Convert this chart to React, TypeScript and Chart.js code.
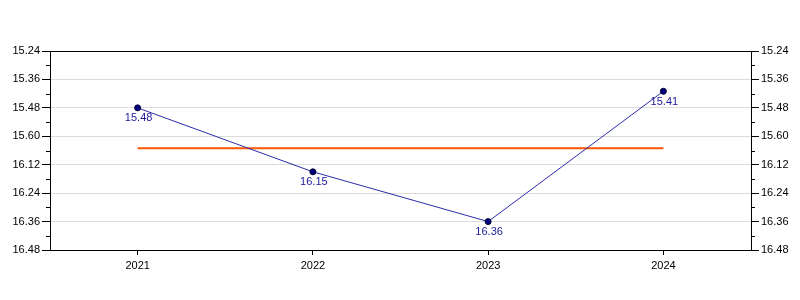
import React, { useEffect, useRef } from "react";
import { Chart, registerables } from "chart.js";

Chart.register(...registerables);

// Data (times expressed in seconds; labels as shown on the chart)
const categories = ["2021", "2022", "2023", "2024"];
const timeSeconds = [948, 975, 996, 941];
const pointLabels = ["15.48", "16.15", "16.36", "15.41"];
const averageSeconds = [965, 965, 965, 965];
const yTickLabels = ["15.24", "15.36", "15.48", "15.60", "16.12", "16.24", "16.36", "16.48"];
const yMin = 924;
const yMax = 1008;
const yStep = 12;

const FONT = "'Liberation Sans', Arial, sans-serif";

const minorTicksPlugin = {
  id: "minorTicks",
  afterDraw(chart: any) {
    const ctx = chart.ctx;
    ctx.save();
    ctx.strokeStyle = "#000";
    ctx.lineWidth = 1;
    ["y", "y2"].forEach((id) => {
      const scale = chart.scales[id];
      if (!scale) return;
      const ticks = scale.ticks;
      for (let i = 0; i < ticks.length - 1; i++) {
        const mid = (ticks[i].value + ticks[i + 1].value) / 2;
        const py = Math.round(scale.getPixelForValue(mid)) + 0.5;
        ctx.beginPath();
        if (id === "y") {
          const x = chart.chartArea.left;
          ctx.moveTo(x - 4, py);
          ctx.lineTo(x, py);
        } else {
          const x = chart.chartArea.right;
          ctx.moveTo(x, py);
          ctx.lineTo(x + 4, py);
        }
        ctx.stroke();
      }
    });
    ctx.restore();
  },
};

const pointLabelPlugin = {
  id: "pointLabels",
  afterDatasetsDraw(chart: any) {
    const ctx = chart.ctx;
    const meta = chart.getDatasetMeta(0);
    ctx.save();
    ctx.font = `11px ${FONT}`;
    ctx.fillStyle = "#1a1a9a";
    ctx.textAlign = "center";
    ctx.textBaseline = "top";
    meta.data.forEach((el: any, i: number) => {
      ctx.fillText(pointLabels[i], el.x + 1, el.y + 5);
    });
    ctx.restore();
  },
};

export default function App() {
  const canvasRef = useRef<HTMLCanvasElement | null>(null);

  useEffect(() => {
    if (!canvasRef.current) return;
    const yTicks = {
      stepSize: yStep,
      color: "#000",
      padding: 2,
      font: { family: FONT, size: 11 },
      callback: (v: any) => yTickLabels[Math.round((Number(v) - yMin) / yStep)] ?? "",
    };
    const chart = new Chart(canvasRef.current, {
      type: "line",
      data: {
        labels: categories,
        datasets: [
          {
            data: timeSeconds,
            borderColor: "#2b2ba8",
            borderWidth: 1,
            backgroundColor: "#000080",
            pointBackgroundColor: "#000080",
            pointBorderColor: "#000030",
            pointBorderWidth: 1,
            pointRadius: 3,
            tension: 0,
            yAxisID: "y",
          },
          {
            data: averageSeconds,
            borderColor: "#ff5500",
            borderWidth: 2,
            pointRadius: 0,
            tension: 0,
            yAxisID: "y",
          },
        ],
      },
      options: {
        animation: false,
        responsive: true,
        maintainAspectRatio: false,
        layout: { padding: { top: 51, left: 0, right: 0, bottom: 0 } },
        plugins: {
          legend: { display: false },
          tooltip: { enabled: false },
          title: { display: false },
        },
        scales: {
          x: {
            type: "category",
            offset: true,
            grid: {
              drawOnChartArea: false,
              drawTicks: true,
              tickLength: 5,
              tickColor: "#000",
            },
            border: { display: true, color: "#000" },
            ticks: {
              color: "#000",
              padding: 4,
              font: { family: FONT, size: 11 },
              maxRotation: 0,
            },
            afterFit: (scale: any) => {
              scale.height = 50;
            },
          },
          y: {
            type: "linear",
            position: "left",
            reverse: true,
            min: yMin,
            max: yMax,
            ticks: yTicks,
            grid: {
              color: (c: any) =>
                c.tick && (c.tick.value === yMin || c.tick.value === yMax) ? "#000" : "#dcdcdc",
              tickColor: "#000",
              tickLength: 8,
            },
            border: { display: true, color: "#000" },
            afterFit: (scale: any) => {
              scale.width = 50;
            },
          },
          y2: {
            type: "linear",
            position: "right",
            reverse: true,
            min: yMin,
            max: yMax,
            ticks: yTicks,
            grid: {
              drawOnChartArea: false,
              tickColor: "#000",
              tickLength: 8,
            },
            border: { display: true, color: "#000" },
            afterFit: (scale: any) => {
              scale.width = 49;
            },
          },
        },
      } as any,
      plugins: [minorTicksPlugin, pointLabelPlugin],
    });
    return () => chart.destroy();
  }, []);

  return (
    <div style={{ position: "absolute", left: 0, top: 0, width: 800, height: 300, background: "#fff" }}>
      <canvas ref={canvasRef} />
    </div>
  );
}
